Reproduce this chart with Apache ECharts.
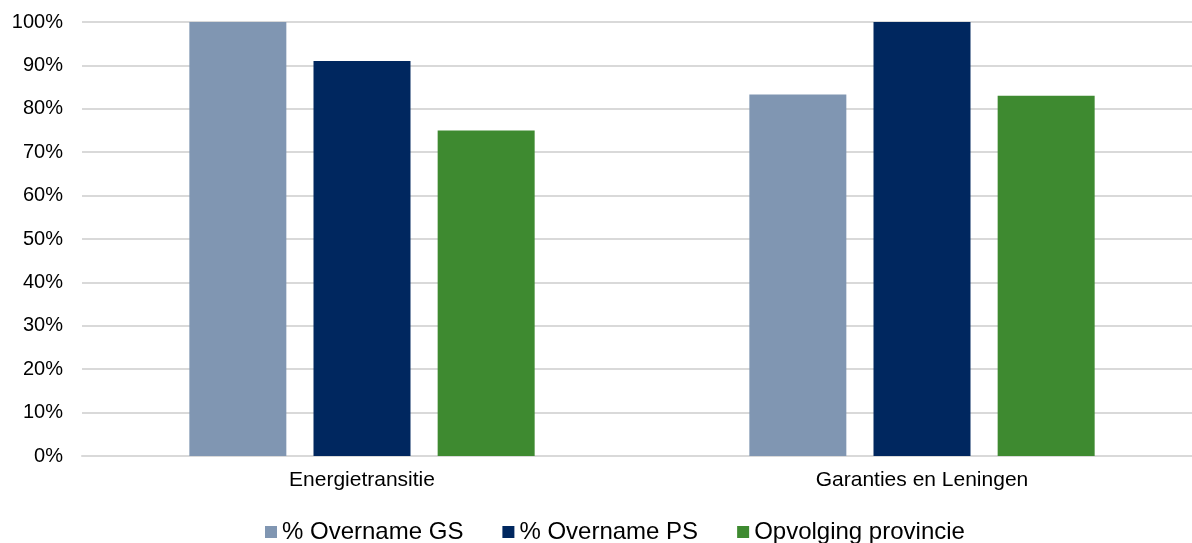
<!DOCTYPE html>
<html>
<head>
<meta charset="utf-8">
<script src="https://cdn.jsdelivr.net/npm/echarts@6/dist/echarts.min.js"></script>
<style>
html,body{margin:0;padding:0;background:#fff;overflow:hidden;}
#c{width:1212px;height:543px;}
</style>
</head>
<body>
<div id="c"></div>
<script>
const categories = ['Energietransitie', 'Garanties en Leningen'];
const seriesNames = ['% Overname GS', '% Overname PS', 'Opvolging provincie'];
const overnameGS = [100, 83.3];
const overnamePS = [91, 100];
const opvolgingProvincie = [75, 83];
const yTicks = [0, 10, 20, 30, 40, 50, 60, 70, 80, 90, 100];

const colors = ['#8096B2', '#00275F', '#3E8A30'];
const values = [overnameGS, overnamePS, opvolgingProvincie];

const chart = echarts.init(document.getElementById('c'));
chart.setOption({
  animation: false,
  color: colors,
  grid: { left: 82, top: 22, width: 1120, height: 434 },
  legend: {
    data: seriesNames,
    left: 260,
    top: 513,
    itemWidth: 12,
    itemHeight: 12,
    itemGap: 39,
    icon: 'rect',
    textStyle: { fontFamily: 'Liberation Sans, Arial, sans-serif', fontSize: 24, color: '#000', lineHeight: 28, padding: [0, 0, 0, 0] }
  },
  xAxis: {
    type: 'category',
    data: categories,
    axisTick: { show: false },
    axisLine: { lineStyle: { color: '#d9d9d9', width: 2 } },
    axisLabel: { fontFamily: 'Liberation Sans, Arial, sans-serif', fontSize: 21, color: '#000', margin: 14 }
  },
  yAxis: {
    type: 'value',
    min: yTicks[0],
    max: yTicks[yTicks.length - 1],
    interval: 10,
    axisLine: { show: false },
    axisTick: { show: false },
    splitLine: { lineStyle: { color: '#d9d9d9', width: 2 } },
    axisLabel: {
      fontFamily: 'Liberation Sans, Arial, sans-serif', fontSize: 20, color: '#000', margin: 19,
      formatter: v => v + '%'
    }
  },
  series: seriesNames.map((n, i) => ({
    name: n,
    type: 'bar',
    data: values[i],
    barWidth: 97,
    barGap: '28%'
  }))
});
</script>
</body>
</html>
